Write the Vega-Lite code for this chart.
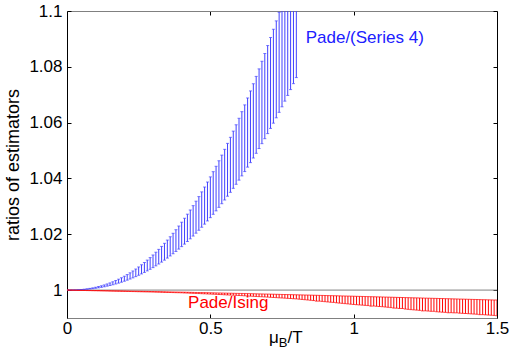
{
"$schema": "https://vega.github.io/schema/vega-lite/v6.json",
"width": 430, "height": 307, "autosize": "none",
"padding": {"left": 67, "top": 11, "right": 17, "bottom": 46},
"config": {"font": "Liberation Sans", "view": {"stroke": null}},
"resolve": {"axis": {"x": "independent", "y": "independent"}},
"datasets": {
"blue": [
{"x":0.00,"lo":1,"hi":1},{"x":0.01,"lo":1,"hi":1.00001},{"x":0.02,"lo":1.00002,"hi":1.00003},{"x":0.03,"lo":1.00004,"hi":1.00006},{"x":0.04,"lo":1.00008,"hi":1.00012},
{"x":0.05,"lo":1.00013,"hi":1.00021},{"x":0.06,"lo":1.0002,"hi":1.00032},{"x":0.07,"lo":1.00029,"hi":1.00045},{"x":0.08,"lo":1.00039,"hi":1.00061},{"x":0.09,"lo":1.00051,"hi":1.0008},
{"x":0.10,"lo":1.00065,"hi":1.00102},{"x":0.11,"lo":1.00081,"hi":1.00127},{"x":0.12,"lo":1.00099,"hi":1.00154},{"x":0.13,"lo":1.00119,"hi":1.00185},{"x":0.14,"lo":1.00141,"hi":1.0022},
{"x":0.15,"lo":1.00165,"hi":1.00257},{"x":0.16,"lo":1.00191,"hi":1.00298},{"x":0.17,"lo":1.00219,"hi":1.00343},{"x":0.18,"lo":1.0025,"hi":1.00391},{"x":0.19,"lo":1.00283,"hi":1.00442},
{"x":0.20,"lo":1.00318,"hi":1.00497},{"x":0.21,"lo":1.00356,"hi":1.00556},{"x":0.22,"lo":1.00396,"hi":1.00619},{"x":0.23,"lo":1.00438,"hi":1.00685},{"x":0.24,"lo":1.00483,"hi":1.00755},
{"x":0.25,"lo":1.00531,"hi":1.00829},{"x":0.26,"lo":1.0058,"hi":1.00907},{"x":0.27,"lo":1.00633,"hi":1.00989},{"x":0.28,"lo":1.00688,"hi":1.01075},{"x":0.29,"lo":1.00745,"hi":1.01164},
{"x":0.30,"lo":1.00805,"hi":1.01258},{"x":0.31,"lo":1.00868,"hi":1.01357},{"x":0.32,"lo":1.00934,"hi":1.01459},{"x":0.33,"lo":1.01002,"hi":1.01565},{"x":0.34,"lo":1.01073,"hi":1.01676},
{"x":0.35,"lo":1.01147,"hi":1.01792},{"x":0.36,"lo":1.01223,"hi":1.01911},{"x":0.37,"lo":1.01302,"hi":1.02035},{"x":0.38,"lo":1.01384,"hi":1.02163},{"x":0.39,"lo":1.01469,"hi":1.02295},
{"x":0.40,"lo":1.01557,"hi":1.02432},{"x":0.41,"lo":1.01647,"hi":1.02574},{"x":0.42,"lo":1.01741,"hi":1.0272},{"x":0.43,"lo":1.01837,"hi":1.0287},{"x":0.44,"lo":1.01936,"hi":1.03026},
{"x":0.45,"lo":1.02039,"hi":1.03186},{"x":0.46,"lo":1.02144,"hi":1.0335},{"x":0.47,"lo":1.02252,"hi":1.03519},{"x":0.48,"lo":1.02363,"hi":1.03693},{"x":0.49,"lo":1.02478,"hi":1.03872},
{"x":0.50,"lo":1.02596,"hi":1.04056},{"x":0.51,"lo":1.02716,"hi":1.04243},{"x":0.52,"lo":1.02839,"hi":1.04436},{"x":0.53,"lo":1.02965,"hi":1.04634},{"x":0.54,"lo":1.03095,"hi":1.04836},
{"x":0.55,"lo":1.03228,"hi":1.05044},{"x":0.56,"lo":1.03364,"hi":1.05257},{"x":0.57,"lo":1.03503,"hi":1.05474},{"x":0.58,"lo":1.03646,"hi":1.05696},{"x":0.59,"lo":1.03791,"hi":1.05924},
{"x":0.60,"lo":1.0394,"hi":1.06156},{"x":0.61,"lo":1.04092,"hi":1.06393},{"x":0.62,"lo":1.04247,"hi":1.06636},{"x":0.63,"lo":1.04406,"hi":1.06884},{"x":0.64,"lo":1.04567,"hi":1.07136},
{"x":0.65,"lo":1.04732,"hi":1.07394},{"x":0.66,"lo":1.04901,"hi":1.07657},{"x":0.67,"lo":1.05072,"hi":1.07926},{"x":0.68,"lo":1.05247,"hi":1.08199},{"x":0.69,"lo":1.05425,"hi":1.08477},
{"x":0.70,"lo":1.05607,"hi":1.08762},{"x":0.71,"lo":1.05793,"hi":1.09051},{"x":0.72,"lo":1.05981,"hi":1.09346},{"x":0.73,"lo":1.06173,"hi":1.09646},{"x":0.74,"lo":1.06369,"hi":1.09951},
{"x":0.75,"lo":1.06567,"hi":1.10261},{"x":0.76,"lo":1.0677,"hi":1.10578},{"x":0.77,"lo":1.06975,"hi":1.10898},{"x":0.78,"lo":1.07184,"hi":1.11225},{"x":0.79,"lo":1.07397,"hi":1.11558},
{"x":0.80,"lo":1.07614,"hi":1.11897}
],
"red": [
{"x":0.00,"hi":1,"lo":1},{"x":0.01,"hi":0.99999,"lo":0.99998},{"x":0.02,"hi":0.99997,"lo":0.99995},{"x":0.03,"hi":0.99996,"lo":0.99993},{"x":0.04,"hi":0.99994,"lo":0.9999},
{"x":0.05,"hi":0.99993,"lo":0.99988},{"x":0.06,"hi":0.99992,"lo":0.99986},{"x":0.07,"hi":0.9999,"lo":0.99983},{"x":0.08,"hi":0.99989,"lo":0.99981},{"x":0.09,"hi":0.99987,"lo":0.99978},
{"x":0.10,"hi":0.99986,"lo":0.99976},{"x":0.11,"hi":0.99984,"lo":0.99974},{"x":0.12,"hi":0.99982,"lo":0.99972},{"x":0.13,"hi":0.99981,"lo":0.9997},{"x":0.14,"hi":0.99979,"lo":0.99968},
{"x":0.15,"hi":0.99977,"lo":0.99965},{"x":0.16,"hi":0.99975,"lo":0.99963},{"x":0.17,"hi":0.99973,"lo":0.99961},{"x":0.18,"hi":0.99972,"lo":0.99959},{"x":0.19,"hi":0.9997,"lo":0.99957},
{"x":0.20,"hi":0.99968,"lo":0.99955},{"x":0.21,"hi":0.99966,"lo":0.99952},{"x":0.22,"hi":0.99964,"lo":0.9995},{"x":0.23,"hi":0.99962,"lo":0.99947},{"x":0.24,"hi":0.9996,"lo":0.99945},
{"x":0.25,"hi":0.99958,"lo":0.99942},{"x":0.26,"hi":0.99956,"lo":0.9994},{"x":0.27,"hi":0.99954,"lo":0.99937},{"x":0.28,"hi":0.99952,"lo":0.99935},{"x":0.29,"hi":0.9995,"lo":0.99932},
{"x":0.30,"hi":0.99948,"lo":0.9993},{"x":0.31,"hi":0.99946,"lo":0.99927},{"x":0.32,"hi":0.99944,"lo":0.99925},{"x":0.33,"hi":0.99942,"lo":0.99922},{"x":0.34,"hi":0.99939,"lo":0.99919},
{"x":0.35,"hi":0.99937,"lo":0.99916},{"x":0.36,"hi":0.99935,"lo":0.99914},{"x":0.37,"hi":0.99933,"lo":0.99911},{"x":0.38,"hi":0.99931,"lo":0.99908},{"x":0.39,"hi":0.99929,"lo":0.99906},
{"x":0.40,"hi":0.99927,"lo":0.99903},{"x":0.41,"hi":0.99925,"lo":0.99898},{"x":0.42,"hi":0.99922,"lo":0.99894},{"x":0.43,"hi":0.9992,"lo":0.99889},{"x":0.44,"hi":0.99918,"lo":0.99885},
{"x":0.45,"hi":0.99915,"lo":0.9988},{"x":0.46,"hi":0.99913,"lo":0.99876},{"x":0.47,"hi":0.99911,"lo":0.99871},{"x":0.48,"hi":0.99909,"lo":0.99867},{"x":0.49,"hi":0.99906,"lo":0.99862},
{"x":0.50,"hi":0.99904,"lo":0.99858},{"x":0.51,"hi":0.99902,"lo":0.99853},{"x":0.52,"hi":0.99899,"lo":0.99848},{"x":0.53,"hi":0.99897,"lo":0.99843},{"x":0.54,"hi":0.99895,"lo":0.99838},
{"x":0.55,"hi":0.99892,"lo":0.99832},{"x":0.56,"hi":0.9989,"lo":0.99827},{"x":0.57,"hi":0.99888,"lo":0.99822},{"x":0.58,"hi":0.99886,"lo":0.99817},{"x":0.59,"hi":0.99883,"lo":0.99812},
{"x":0.60,"hi":0.99881,"lo":0.99807},{"x":0.61,"hi":0.99879,"lo":0.99801},{"x":0.62,"hi":0.99876,"lo":0.99795},{"x":0.63,"hi":0.99874,"lo":0.9979},{"x":0.64,"hi":0.99871,"lo":0.99784},
{"x":0.65,"hi":0.99869,"lo":0.99778},{"x":0.66,"hi":0.99867,"lo":0.99772},{"x":0.67,"hi":0.99864,"lo":0.99766},{"x":0.68,"hi":0.99862,"lo":0.99761},{"x":0.69,"hi":0.99859,"lo":0.99755},
{"x":0.70,"hi":0.99857,"lo":0.99749},{"x":0.71,"hi":0.99854,"lo":0.99743},{"x":0.72,"hi":0.99852,"lo":0.99736},{"x":0.73,"hi":0.99849,"lo":0.9973},{"x":0.74,"hi":0.99847,"lo":0.99723},
{"x":0.75,"hi":0.99844,"lo":0.99717},{"x":0.76,"hi":0.99842,"lo":0.99711},{"x":0.77,"hi":0.99839,"lo":0.99704},{"x":0.78,"hi":0.99837,"lo":0.99698},{"x":0.79,"hi":0.99834,"lo":0.99691},
{"x":0.80,"hi":0.99832,"lo":0.99685},{"x":0.81,"hi":0.99829,"lo":0.99675},{"x":0.82,"hi":0.99827,"lo":0.99665},{"x":0.83,"hi":0.99824,"lo":0.99655},{"x":0.84,"hi":0.99822,"lo":0.99645},
{"x":0.85,"hi":0.99819,"lo":0.99635},{"x":0.86,"hi":0.99816,"lo":0.99625},{"x":0.87,"hi":0.99814,"lo":0.99605},{"x":0.88,"hi":0.99811,"lo":0.99605},{"x":0.89,"hi":0.99809,"lo":0.99595},
{"x":0.90,"hi":0.99806,"lo":0.99585},{"x":0.91,"hi":0.99803,"lo":0.99575},{"x":0.92,"hi":0.99801,"lo":0.99565},{"x":0.93,"hi":0.99798,"lo":0.9956},{"x":0.94,"hi":0.99796,"lo":0.99545},
{"x":0.95,"hi":0.99793,"lo":0.99535},{"x":0.96,"hi":0.9979,"lo":0.99525},{"x":0.97,"hi":0.99788,"lo":0.99515},{"x":0.98,"hi":0.99785,"lo":0.99505},{"x":0.99,"hi":0.99783,"lo":0.99495},
{"x":1.00,"hi":0.9978,"lo":0.99485},{"x":1.01,"hi":0.99777,"lo":0.99477},{"x":1.02,"hi":0.99775,"lo":0.99469},{"x":1.03,"hi":0.99772,"lo":0.99461},{"x":1.04,"hi":0.99769,"lo":0.99453},
{"x":1.05,"hi":0.99766,"lo":0.99445},{"x":1.06,"hi":0.99764,"lo":0.99425},{"x":1.07,"hi":0.99761,"lo":0.99429},{"x":1.08,"hi":0.99758,"lo":0.99421},{"x":1.09,"hi":0.99756,"lo":0.99413},
{"x":1.10,"hi":0.99753,"lo":0.99405},{"x":1.11,"hi":0.9975,"lo":0.99394},{"x":1.12,"hi":0.99748,"lo":0.99384},{"x":1.13,"hi":0.99745,"lo":0.99373},{"x":1.14,"hi":0.99742,"lo":0.99355},
{"x":1.15,"hi":0.99739,"lo":0.99352},{"x":1.16,"hi":0.99737,"lo":0.99342},{"x":1.17,"hi":0.99734,"lo":0.9934},{"x":1.18,"hi":0.99731,"lo":0.99321},{"x":1.19,"hi":0.99729,"lo":0.9931},
{"x":1.20,"hi":0.99726,"lo":0.993},{"x":1.21,"hi":0.99723,"lo":0.99291},{"x":1.22,"hi":0.99721,"lo":0.99283},{"x":1.23,"hi":0.99718,"lo":0.99274},{"x":1.24,"hi":0.99715,"lo":0.99255},
{"x":1.25,"hi":0.99712,"lo":0.99257},{"x":1.26,"hi":0.9971,"lo":0.99249},{"x":1.27,"hi":0.99707,"lo":0.9924},{"x":1.28,"hi":0.99704,"lo":0.9924},{"x":1.29,"hi":0.99702,"lo":0.99223},
{"x":1.30,"hi":0.99699,"lo":0.99215},{"x":1.31,"hi":0.99696,"lo":0.99209},{"x":1.32,"hi":0.99693,"lo":0.99203},{"x":1.33,"hi":0.99691,"lo":0.99188},{"x":1.34,"hi":0.99688,"lo":0.99191},
{"x":1.35,"hi":0.99685,"lo":0.99185},{"x":1.36,"hi":0.99682,"lo":0.99185},{"x":1.37,"hi":0.99679,"lo":0.99173},{"x":1.38,"hi":0.99677,"lo":0.99167},{"x":1.39,"hi":0.99674,"lo":0.99161},
{"x":1.40,"hi":0.99671,"lo":0.99155},{"x":1.41,"hi":0.99668,"lo":0.99148},{"x":1.42,"hi":0.99665,"lo":0.99141},{"x":1.43,"hi":0.99662,"lo":0.99134},{"x":1.44,"hi":0.99659,"lo":0.9912},
{"x":1.45,"hi":0.99656,"lo":0.9912},{"x":1.46,"hi":0.99654,"lo":0.99113},{"x":1.47,"hi":0.99651,"lo":0.99106},{"x":1.48,"hi":0.99648,"lo":0.99099},{"x":1.49,"hi":0.99645,"lo":0.99092},
{"x":1.50,"hi":0.99642,"lo":0.99085}
]
},
"layer": [
{"data": {"values": [{}]},
 "mark": {"type": "rule", "color": "#808080", "strokeWidth": 1},
 "encoding": {"y": {"datum": 1, "type": "quantitative", "scale": {"domain": [0.99, 1.1], "nice": false, "zero": false}, "axis": null}}},
{"data": {"name": "blue"},
 "mark": {"type": "rule", "color": "#4040ff", "strokeWidth": 1, "clip": true},
 "encoding": {
  "x": {"field": "x", "type": "quantitative", "scale": {"domain": [0, 1.5], "nice": false, "zero": false},
        "axis": {"orient": "bottom", "values": [0, 0.5, 1, 1.5], "format": "~g", "grid": false, "title": null,
                 "domainColor": "#808080", "domainWidth": 1, "tickColor": "#000000", "tickSize": -4, "tickWidth": 1,
                 "labelFontSize": 17, "labelColor": "#000000", "labelPadding": 6, "labelFlush": false, "labelFont": "Liberation Sans"}},
  "y": {"field": "lo", "type": "quantitative", "scale": {"domain": [0.99, 1.1], "nice": false, "zero": false},
        "axis": {"orient": "left", "values": [1, 1.02, 1.04, 1.06, 1.08, 1.1], "format": ".2~f", "grid": false,
                 "title": "ratios of estimators", "titleFontSize": 18, "titleFontWeight": "normal", "titleColor": "#000000", "titlePadding": 6, "titleFont": "Liberation Sans",
                 "domainColor": "#000000", "domainWidth": 1, "tickColor": "#000000", "tickSize": -4, "tickWidth": 1,
                 "labelFontSize": 17, "labelColor": "#000000", "labelPadding": 9, "labelFlush": false, "labelFont": "Liberation Sans"}},
  "y2": {"field": "hi"}}},
{"data": {"name": "blue"},
 "mark": {"type": "tick", "orient": "horizontal", "size": 3, "thickness": 1, "color": "#4040ff", "clip": true},
 "encoding": {
  "x": {"field": "x", "type": "quantitative",
        "axis": {"orient": "top", "values": [0.5, 1], "labels": false, "grid": false, "title": null,
                 "domainColor": "#808080", "domainWidth": 1, "tickColor": "#000000", "tickSize": -4, "tickWidth": 1}},
  "y": {"field": "hi", "type": "quantitative",
        "axis": {"orient": "right", "values": [1, 1.02, 1.04, 1.06, 1.08, 1.1], "labels": false, "grid": false, "title": null,
                 "domainColor": "#000000", "domainWidth": 1, "tickColor": "#000000", "tickSize": -4, "tickWidth": 1}}}},
{"data": {"name": "blue"},
 "mark": {"type": "tick", "orient": "horizontal", "size": 3, "thickness": 1, "color": "#4040ff", "clip": true},
 "encoding": {
  "x": {"field": "x", "type": "quantitative", "axis": null},
  "y": {"field": "lo", "type": "quantitative", "axis": null}}},
{"data": {"name": "red"},
 "mark": {"type": "rule", "color": "#ff0000", "strokeWidth": 1, "clip": true},
 "encoding": {
  "x": {"field": "x", "type": "quantitative", "axis": null},
  "y": {"field": "lo", "type": "quantitative", "axis": null},
  "y2": {"field": "hi"}}},
{"data": {"name": "red"},
 "mark": {"type": "tick", "orient": "horizontal", "size": 3, "thickness": 1, "color": "#ff0000", "clip": true},
 "encoding": {
  "x": {"field": "x", "type": "quantitative", "axis": null},
  "y": {"field": "hi", "type": "quantitative", "axis": null}}},
{"data": {"name": "red"},
 "mark": {"type": "tick", "orient": "horizontal", "size": 3, "thickness": 1, "color": "#ff0000", "clip": true},
 "encoding": {
  "x": {"field": "x", "type": "quantitative", "axis": null},
  "y": {"field": "lo", "type": "quantitative", "axis": null}}},
{"data": {"values": [{}]},
 "mark": {"type": "text", "text": "Pade/(Series 4)", "align": "left", "baseline": "middle", "fontSize": 17, "color": "#2020ff", "font": "Liberation Sans"},
 "encoding": {"x": {"datum": 0.8326, "type": "quantitative", "axis": null}, "y": {"datum": 1.0904, "type": "quantitative", "axis": null}}},
{"data": {"values": [{}]},
 "mark": {"type": "text", "text": "Pade/Ising", "align": "center", "baseline": "middle", "fontSize": 17, "color": "#ff0000", "font": "Liberation Sans"},
 "encoding": {"x": {"datum": 0.5625, "type": "quantitative", "axis": null}, "y": {"datum": 0.9955, "type": "quantitative", "axis": null}}},
{"data": {"values": [{}]},
 "mark": {"type": "text", "text": "μ", "align": "left", "baseline": "alphabetic", "fontSize": 17, "color": "#000000", "font": "Liberation Sans"},
 "encoding": {"x": {"datum": 0.7049, "type": "quantitative", "axis": null}, "y": {"datum": 0.98107, "type": "quantitative", "axis": null}}},
{"data": {"values": [{}]},
 "mark": {"type": "text", "text": "B", "align": "left", "baseline": "alphabetic", "fontSize": 13, "color": "#000000", "font": "Liberation Sans"},
 "encoding": {"x": {"datum": 0.7389, "type": "quantitative", "axis": null}, "y": {"datum": 0.97964, "type": "quantitative", "axis": null}}},
{"data": {"values": [{}]},
 "mark": {"type": "text", "text": "/T", "align": "left", "baseline": "alphabetic", "fontSize": 17, "color": "#000000", "font": "Liberation Sans"},
 "encoding": {"x": {"datum": 0.769, "type": "quantitative", "axis": null}, "y": {"datum": 0.98107, "type": "quantitative", "axis": null}}}
]
}
